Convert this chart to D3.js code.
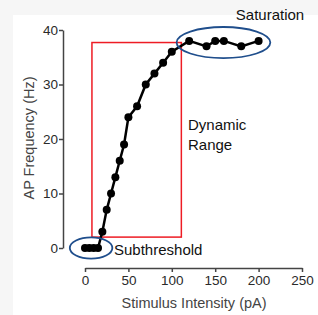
<!DOCTYPE html>
<html>
<head>
<meta charset="utf-8">
<script src="https://cdn.jsdelivr.net/npm/d3@7"></script>
<style>
  body { margin: 0; background: #f6f6f6; }
  svg { display: block; font-family: "Liberation Sans", Arial, sans-serif; }
</style>
</head>
<body>
<div id="chart"></div>
<script>
// stimulus intensity (pA) and AP frequency (Hz)
const stimulus = [0, 5, 10, 15, 20, 25, 30, 35, 40, 45, 50, 60, 70, 80, 90, 100, 120, 140, 150, 160, 180, 200];
const frequency = [0, 0, 0, 0, 3, 7, 10, 13, 16, 19, 24, 26, 30, 32, 34, 36, 38, 37, 38, 38, 37, 38];
const xTicks = [0, 50, 100, 150, 200, 250];
const yTicks = [0, 10, 20, 30, 40];

// annotation regions in data units
const dynamicBox = { x0: 8, x1: 111, y0: 2, y1: 37.7 };
const saturationEllipse = { cx: 159.5, cy: 37.7, rx: 54, ry: 2.85 };
const subthresholdEllipse = { cx: 7, cy: 0, rx: 24.5, ry: 1.95 };

const width = 318, height = 315;

const svg = d3.select("#chart")
  .append("svg")
  .attr("width", width)
  .attr("height", height);

svg.append("rect")
  .attr("x", 13).attr("y", 15)
  .attr("width", width - 13).attr("height", height - 15)
  .attr("fill", "#ffffff");

const x = d3.scaleLinear().domain([0, 250]).range([85, 302]);
const y = d3.scaleLinear().domain([0, 40]).range([248, 30]);

// y axis
const yAxis = svg.append("g")
  .attr("transform", "translate(63,0)")
  .call(d3.axisLeft(y).tickValues(yTicks).tickSize(4).tickSizeOuter(0));
yAxis.select(".domain").attr("stroke", "#444").attr("stroke-width", 1.5);
yAxis.selectAll(".tick line").attr("stroke", "#444").attr("stroke-width", 1.5);
yAxis.selectAll(".tick text").attr("fill", "#2a2a2a").style("font-size", "13.5px").attr("x", -5);

// x axis
const xAxis = svg.append("g")
  .attr("transform", "translate(0,268)")
  .call(d3.axisBottom(x).tickValues(xTicks).tickSize(4).tickSizeOuter(0));
xAxis.select(".domain").attr("stroke", "#444").attr("stroke-width", 1.5);
xAxis.selectAll(".tick line").attr("stroke", "#444").attr("stroke-width", 1.5);
xAxis.selectAll(".tick text").attr("fill", "#2a2a2a").style("font-size", "13.5px").attr("y", 7);

// axis titles
svg.append("text")
  .attr("x", 194).attr("y", 308)
  .attr("text-anchor", "middle")
  .attr("fill", "#444")
  .style("font-size", "14.5px")
  .text("Stimulus Intensity (pA)");

svg.append("text")
  .attr("transform", "translate(34,138) rotate(-90)")
  .attr("text-anchor", "middle")
  .attr("fill", "#444")
  .style("font-size", "14.5px")
  .text("AP Frequency (Hz)");

// red dynamic range box
svg.append("rect")
  .attr("x", x(dynamicBox.x0))
  .attr("y", y(dynamicBox.y1))
  .attr("width", x(dynamicBox.x1) - x(dynamicBox.x0))
  .attr("height", y(dynamicBox.y0) - y(dynamicBox.y1))
  .attr("fill", "none")
  .attr("stroke", "#ee1c24")
  .attr("stroke-width", 1.5);

// line + points
const data = stimulus.map((s, i) => ({ s: s, f: frequency[i] }));

svg.append("path")
  .datum(data)
  .attr("fill", "none")
  .attr("stroke", "#000")
  .attr("stroke-width", 2.5)
  .attr("d", d3.line().x(d => x(d.s)).y(d => y(d.f)));

svg.selectAll("circle.pt")
  .data(data)
  .enter()
  .append("circle")
  .attr("class", "pt")
  .attr("cx", d => x(d.s))
  .attr("cy", d => y(d.f))
  .attr("r", 4)
  .attr("fill", "#000");

// blue ellipses
[saturationEllipse, subthresholdEllipse].forEach(e => {
  svg.append("ellipse")
    .attr("cx", x(e.cx))
    .attr("cy", y(e.cy))
    .attr("rx", x(e.rx) - x(0))
    .attr("ry", y(0) - y(e.ry))
    .attr("fill", "none")
    .attr("stroke", "#1f4e8c")
    .attr("stroke-width", 1.8);
});

// annotation labels
svg.append("text")
  .attr("x", 270).attr("y", 20)
  .attr("text-anchor", "middle")
  .style("font-size", "15px")
  .attr("fill", "#111")
  .text("Saturation");

svg.append("text")
  .attr("x", 188).attr("y", 130)
  .style("font-size", "15px")
  .attr("fill", "#111")
  .text("Dynamic");

svg.append("text")
  .attr("x", 188).attr("y", 150)
  .style("font-size", "15px")
  .attr("fill", "#111")
  .text("Range");

svg.append("text")
  .attr("x", 114).attr("y", 255)
  .style("font-size", "15px")
  .attr("fill", "#111")
  .text("Subthreshold");
</script>
</body>
</html>
